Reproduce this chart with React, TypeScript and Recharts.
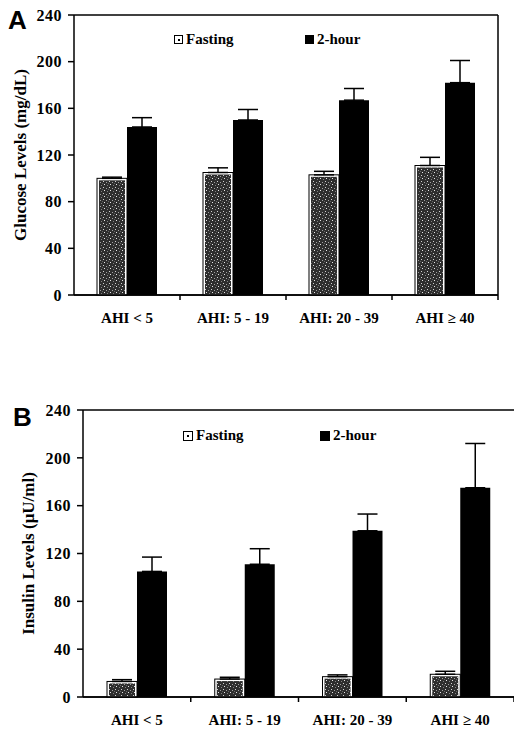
import React from "react";
import {
  ComposedChart,
  Bar,
  ErrorBar,
  XAxis,
  YAxis,
  CartesianGrid,
  Legend
} from "recharts";

const categories = ["AHI < 5", "AHI: 5 - 19", "AHI: 20 - 39", "AHI \u2265 40"];
const yTicks = [0, 40, 80, 120, 160, 200, 240];

// panel A - glucose (mg/dL)
const glucoseFasting = [100, 105, 103, 111];
const glucoseFastingSE = [1, 4, 3, 7];
const glucose2h = [144, 150, 167, 182];
const glucose2hSE = [8, 9, 10, 19];

// panel B - insulin (uU/ml)
const insulinFasting = [13, 15, 17, 19];
const insulinFastingSE = [1.5, 1.5, 1.5, 2.5];
const insulin2h = [105, 111, 139, 175];
const insulin2hSE = [12, 13, 14, 37];

const serif = "'Liberation Serif', 'Times New Roman', serif";

const buildRows = (f: number[], fse: number[], t: number[], tse: number[]) =>
  categories.map((name, i) => ({
    name,
    fasting: f[i],
    fastingErr: [0, fse[i]],
    twoHour: t[i],
    twoHourErr: [0, tse[i]]
  }));

const glucoseRows = buildRows(glucoseFasting, glucoseFastingSE, glucose2h, glucose2hSE);
const insulinRows = buildRows(insulinFasting, insulinFastingSE, insulin2h, insulin2hSE);

const SpeckleDefs = ({ id }: { id: string }) => (
  <defs>
    <pattern id={id} width="6" height="6" patternUnits="userSpaceOnUse">
      <rect width="6" height="6" fill="#2e2e2e" />
      <rect x="1" y="1" width="1" height="1" fill="#d0d0d0" />
      <rect x="4" y="2" width="1" height="1" fill="#a0a0a0" />
      <rect x="2" y="4" width="1" height="1" fill="#e8e8e8" />
      <rect x="5" y="5" width="1" height="1" fill="#808080" />
      <rect x="0" y="3" width="1" height="1" fill="#666" />
    </pattern>
  </defs>
);

const fastingShape = (patternId: string) => (props: any) => {
  const { x, y, width, height } = props;
  if (!height || height <= 0) return <g />;
  return (
    <g>
      <rect x={x} y={y} width={width} height={height} fill="#fff" stroke="#000" strokeWidth={1} />
      <rect x={x + 2} y={y + 2} width={Math.max(width - 4, 0)} height={Math.max(height - 3, 0)} fill={`url(#${patternId})`} />
    </g>
  );
};

const textStyle = (size: number) => ({ fontFamily: serif, fontWeight: "bold" as const, fontSize: size, fill: "#000" });

const makeXTick = (half: number, gap: number) => (props: any) => {
  const { x, y, payload } = props;
  return (
    <g>
      <line x1={x + half} x2={x + half} y1={y} y2={y + 5} stroke="#000" strokeWidth={1.5} />
      <text x={x} y={y + gap} dy="0.71em" textAnchor="middle" style={textStyle(15)}>
        {payload.value}
      </text>
    </g>
  );
};

const YTick = (props: any) => {
  const { x, y, payload } = props;
  return (
    <text x={x} y={y} dy="0.36em" textAnchor="end" style={{ ...textStyle(16), letterSpacing: 0.5 }}>
      {payload.value}
    </text>
  );
};

const makeLegend = (fastX: number, twoX: number, box: number, fontSize: number) => () => (
  <div style={{ position: "relative", height: 20, fontFamily: serif, fontWeight: "bold", fontSize, color: "#000" }}>
    <span style={{ position: "absolute", left: fastX, top: 0, display: "flex", alignItems: "center", whiteSpace: "nowrap" }}>
      <span style={{ width: box, height: box, border: "1.5px solid #000", boxSizing: "border-box", display: "inline-flex", alignItems: "center", justifyContent: "center", marginRight: 3 }}>
        <span style={{ width: 2, height: 2, background: "#000" }} />
      </span>
      Fasting
    </span>
    <span style={{ position: "absolute", left: twoX, top: 0, display: "flex", alignItems: "center", whiteSpace: "nowrap" }}>
      <span style={{ width: box, height: box, background: "#000", display: "inline-block", marginRight: 3 }} />
      2-hour
    </span>
  </div>
);

type PanelProps = {
  rows: any[];
  letter: string;
  letterTop: number;
  letterLeft: number;
  yLabel: string;
  top: number;
  height: number;
  marginTop: number;
  marginRight: number;
  xAxisHeight: number;
  yAxisWidth: number;
  rightBorder: boolean;
  labelOffset: number;
  legendTop: number;
  legendFastX: number;
  legendTwoX: number;
  legendBox: number;
  patternId: string;
};

const Panel = (p: PanelProps) => {
  const width = 514;
  const plotW = width - p.marginRight - (p.rightBorder ? 1 : 0) - p.yAxisWidth;
  const half = plotW / 8;
  return (
    <div style={{ position: "absolute", left: 0, top: p.top, width, height: p.height }}>
      <ComposedChart
        width={width}
        height={p.height}
        data={p.rows}
        margin={{ top: p.marginTop, right: p.marginRight, left: 0, bottom: 0 }}
        barGap={0}
      >
        <SpeckleDefs id={p.patternId} />
        <CartesianGrid vertical={false} stroke="#000" strokeWidth={1.5} />
        <XAxis
          dataKey="name"
          height={p.xAxisHeight}
          axisLine={{ stroke: "#000", strokeWidth: 1.5 }}
          tickLine={false}
          tickSize={0}
          tickMargin={0}
          interval={0}
          tick={makeXTick(half, 17)}
        />
        <YAxis
          yAxisId="left"
          width={p.yAxisWidth}
          domain={[0, 240]}
          ticks={yTicks}
          interval={0}
          axisLine={{ stroke: "#000", strokeWidth: 1.5 }}
          tickLine={{ stroke: "#000", strokeWidth: 1.5 }}
          tickSize={6}
          tickMargin={6}
          tick={YTick}
          label={{
            value: p.yLabel,
            angle: -90,
            position: "insideLeft",
            offset: p.labelOffset,
            style: { textAnchor: "middle", ...textStyle(17) }
          }}
        />
        {p.rightBorder && (
          <YAxis
            yAxisId="right"
            orientation="right"
            width={1}
            domain={[0, 240]}
            tick={false}
            tickLine={false}
            axisLine={{ stroke: "#000", strokeWidth: 1.5 }}
          />
        )}
        <Legend
          layout="horizontal"
          verticalAlign="middle"
          align="center"
          content={makeLegend(p.legendFastX, p.legendTwoX, p.legendBox, 15)}
          wrapperStyle={{ top: p.legendTop, left: 0, width }}
        />
        <Bar
          yAxisId="left"
          dataKey="fasting"
          name="Fasting"
          barSize={30}
          fill="#444"
          shape={fastingShape(p.patternId)}
          isAnimationActive={false}
        >
          <ErrorBar dataKey="fastingErr" width={10} stroke="#000" strokeWidth={1.5} direction="y" />
        </Bar>
        <Bar
          yAxisId="left"
          dataKey="twoHour"
          name="2-hour"
          barSize={30}
          fill="#000"
          isAnimationActive={false}
        >
          <ErrorBar dataKey="twoHourErr" width={10} stroke="#000" strokeWidth={1.5} direction="y" />
        </Bar>
      </ComposedChart>
      <div
        style={{
          position: "absolute",
          left: p.letterLeft,
          top: p.letterTop,
          fontFamily: "'Liberation Sans', Arial, sans-serif",
          fontWeight: "bold",
          fontSize: 26,
          lineHeight: 1,
          color: "#000"
        }}
      >
        {p.letter}
      </div>
    </div>
  );
};

export default function App() {
  return (
    <div style={{ position: "absolute", left: 0, top: 0, width: 514, height: 734, background: "#fff" }}>
      <Panel
        rows={glucoseRows}
        letter="A"
        letterTop={7}
        letterLeft={8}
        yLabel="Glucose Levels (mg/dL)"
        top={0}
        height={340}
        marginTop={15}
        marginRight={15}
        xAxisHeight={45}
        yAxisWidth={74}
        rightBorder={true}
        labelOffset={20}
        legendTop={31}
        legendFastX={174}
        legendTwoX={305}
        legendBox={9}
        patternId="speckA"
      />
      <Panel
        rows={insulinRows}
        letter="B"
        letterTop={34}
        letterLeft={13}
        yLabel={"Insulin Levels (\u03bcU/ml)"}
        top={370}
        height={364}
        marginTop={40}
        marginRight={0}
        xAxisHeight={37}
        yAxisWidth={83}
        rightBorder={false}
        labelOffset={28}
        legendTop={57}
        legendFastX={183}
        legendTwoX={320}
        legendBox={10}
        patternId="speckB"
      />
    </div>
  );
}
